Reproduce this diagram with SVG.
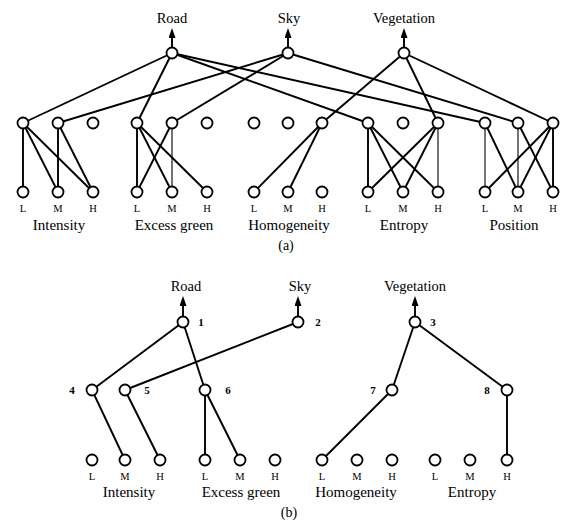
<svg xmlns="http://www.w3.org/2000/svg" width="565" height="525" viewBox="0 0 565 525">
  <style>
    .edge { stroke: #000; stroke-width: 1.9; fill: none; }
    .thin { stroke: #000; stroke-width: 1.1; fill: none; }
    .arrow { stroke: #000; stroke-width: 1.9; fill: none; }
    .node circle { fill: #fff; stroke: #000; stroke-width: 1.8; }
    text { font-family: "Liberation Serif", "Times New Roman", serif; fill: #000; }
    .out { font-size: 14.5px; text-anchor: middle; }
    .grp { font-size: 15px; text-anchor: middle; }
    .lvl { font-size: 10.5px; text-anchor: middle; }
    .num { font-size: 11px; font-weight: bold; text-anchor: middle; }
    .cap { font-size: 14px; text-anchor: middle; }
  </style>
  <defs>
    <marker id="head" markerUnits="userSpaceOnUse" markerWidth="10" markerHeight="7" viewBox="0 0 10 7" refX="1" refY="3.5" orient="auto">
      <path d="M0,0 L10,3.5 L0,7 z" fill="#000"/>
    </marker>
  </defs>

  <rect width="565" height="525" fill="#fff"/>

  <!-- ===== Network (a) ===== -->
  <g id="connectors-a">
    <!-- output arrows -->
    <line class="arrow" x1="172" y1="48" x2="172" y2="37" marker-end="url(#head)"/>
    <line class="arrow" x1="288" y1="48" x2="288" y2="37" marker-end="url(#head)"/>
    <line class="arrow" x1="404" y1="48" x2="404" y2="37" marker-end="url(#head)"/>
    <!-- Road -->
    <line class="edge" x1="172" y1="53" x2="23" y2="123"/>
    <line class="edge" x1="172" y1="53" x2="137" y2="123"/>
    <line class="edge" x1="172" y1="53" x2="368" y2="123"/>
    <line class="edge" x1="172" y1="53" x2="485" y2="123"/>
    <!-- Sky -->
    <line class="edge" x1="288" y1="53" x2="58" y2="123"/>
    <line class="edge" x1="288" y1="53" x2="172" y2="123"/>
    <line class="edge" x1="288" y1="53" x2="518" y2="123"/>
    <!-- Vegetation -->
    <line class="edge" x1="404" y1="53" x2="322" y2="123"/>
    <line class="edge" x1="404" y1="53" x2="438" y2="123"/>
    <line class="edge" x1="404" y1="53" x2="553" y2="123"/>
    <!-- Intensity -->
    <line class="edge" x1="23" y1="123" x2="23" y2="192"/>
    <line class="edge" x1="23" y1="123" x2="58" y2="192"/>
    <line class="edge" x1="23" y1="123" x2="93" y2="192"/>
    <line class="edge" x1="58" y1="123" x2="58" y2="192"/>
    <line class="edge" x1="58" y1="123" x2="93" y2="192"/>
    <!-- Excess green -->
    <line class="edge" x1="137" y1="123" x2="137" y2="192"/>
    <line class="edge" x1="137" y1="123" x2="172" y2="192"/>
    <line class="edge" x1="137" y1="123" x2="207" y2="192"/>
    <line class="edge" x1="172" y1="123" x2="137" y2="192"/>
    <line class="thin" x1="172" y1="123" x2="172" y2="192"/>
    <!-- Homogeneity -->
    <line class="edge" x1="322" y1="123" x2="254" y2="192"/>
    <line class="edge" x1="322" y1="123" x2="288" y2="192"/>
    <!-- Entropy -->
    <line class="edge" x1="368" y1="123" x2="368" y2="192"/>
    <line class="edge" x1="368" y1="123" x2="403" y2="192"/>
    <line class="edge" x1="368" y1="123" x2="438" y2="192"/>
    <line class="edge" x1="438" y1="123" x2="368" y2="192"/>
    <line class="edge" x1="438" y1="123" x2="403" y2="192"/>
    <line class="thin" x1="438" y1="123" x2="438" y2="192"/>
    <!-- Position -->
    <line class="thin" x1="485" y1="123" x2="485" y2="192"/>
    <line class="edge" x1="485" y1="123" x2="518" y2="192"/>
    <line class="thin" x1="518" y1="123" x2="518" y2="192"/>
    <line class="edge" x1="518" y1="123" x2="553" y2="192"/>
    <line class="edge" x1="553" y1="123" x2="485" y2="192"/>
    <line class="edge" x1="553" y1="123" x2="518" y2="192"/>
    <line class="edge" x1="553" y1="123" x2="553" y2="192"/>
  </g>

  <!-- outputs (a) -->
  <g id="a-road" class="node"><circle cx="172" cy="53" r="5.5"/><text class="out" x="172" y="23">Road</text></g>
  <g id="a-sky" class="node"><circle cx="288" cy="53" r="5.5"/><text class="out" x="289" y="23">Sky</text></g>
  <g id="a-vegetation" class="node"><circle cx="404" cy="53" r="5.5"/><text class="out" x="404" y="23">Vegetation</text></g>

  <!-- hidden layer (a) -->
  <g id="a-h1" class="node"><circle cx="23" cy="123" r="5.5"/></g>
  <g id="a-h2" class="node"><circle cx="58" cy="123" r="5.5"/></g>
  <g id="a-h3" class="node"><circle cx="93" cy="123" r="5.5"/></g>
  <g id="a-h4" class="node"><circle cx="137" cy="123" r="5.5"/></g>
  <g id="a-h5" class="node"><circle cx="172" cy="123" r="5.5"/></g>
  <g id="a-h6" class="node"><circle cx="207" cy="123" r="5.5"/></g>
  <g id="a-h7" class="node"><circle cx="254" cy="123" r="5.5"/></g>
  <g id="a-h8" class="node"><circle cx="288" cy="123" r="5.5"/></g>
  <g id="a-h9" class="node"><circle cx="322" cy="123" r="5.5"/></g>
  <g id="a-h10" class="node"><circle cx="368" cy="123" r="5.5"/></g>
  <g id="a-h11" class="node"><circle cx="403" cy="123" r="5.5"/></g>
  <g id="a-h12" class="node"><circle cx="438" cy="123" r="5.5"/></g>
  <g id="a-h13" class="node"><circle cx="485" cy="123" r="5.5"/></g>
  <g id="a-h14" class="node"><circle cx="518" cy="123" r="5.5"/></g>
  <g id="a-h15" class="node"><circle cx="553" cy="123" r="5.5"/></g>

  <!-- inputs (a) -->
  <g id="a-intensity-l" class="node"><circle cx="23" cy="192" r="5.5"/><text class="lvl" x="23" y="212">L</text></g>
  <g id="a-intensity-m" class="node"><circle cx="58" cy="192" r="5.5"/><text class="lvl" x="58" y="212">M</text></g>
  <g id="a-intensity-h" class="node"><circle cx="93" cy="192" r="5.5"/><text class="lvl" x="93" y="212">H</text></g>
  <g id="a-green-l" class="node"><circle cx="137" cy="192" r="5.5"/><text class="lvl" x="137" y="212">L</text></g>
  <g id="a-green-m" class="node"><circle cx="172" cy="192" r="5.5"/><text class="lvl" x="172" y="212">M</text></g>
  <g id="a-green-h" class="node"><circle cx="207" cy="192" r="5.5"/><text class="lvl" x="207" y="212">H</text></g>
  <g id="a-homog-l" class="node"><circle cx="254" cy="192" r="5.5"/><text class="lvl" x="254" y="212">L</text></g>
  <g id="a-homog-m" class="node"><circle cx="288" cy="192" r="5.5"/><text class="lvl" x="288" y="212">M</text></g>
  <g id="a-homog-h" class="node"><circle cx="322" cy="192" r="5.5"/><text class="lvl" x="322" y="212">H</text></g>
  <g id="a-entropy-l" class="node"><circle cx="368" cy="192" r="5.5"/><text class="lvl" x="368" y="212">L</text></g>
  <g id="a-entropy-m" class="node"><circle cx="403" cy="192" r="5.5"/><text class="lvl" x="403" y="212">M</text></g>
  <g id="a-entropy-h" class="node"><circle cx="438" cy="192" r="5.5"/><text class="lvl" x="438" y="212">H</text></g>
  <g id="a-position-l" class="node"><circle cx="485" cy="192" r="5.5"/><text class="lvl" x="485" y="212">L</text></g>
  <g id="a-position-m" class="node"><circle cx="518" cy="192" r="5.5"/><text class="lvl" x="518" y="212">M</text></g>
  <g id="a-position-h" class="node"><circle cx="553" cy="192" r="5.5"/><text class="lvl" x="553" y="212">H</text></g>

  <g id="a-groups">
    <text class="grp" x="59" y="230">Intensity</text>
    <text class="grp" x="174" y="230">Excess green</text>
    <text class="grp" x="289" y="230">Homogeneity</text>
    <text class="grp" x="404" y="230">Entropy</text>
    <text class="grp" x="514" y="230">Position</text>
    <text class="cap" x="286" y="250">(a)</text>
  </g>

  <!-- ===== Network (b) ===== -->
  <g id="connectors-b">
    <line class="arrow" x1="183" y1="316" x2="183" y2="305" marker-end="url(#head)"/>
    <line class="arrow" x1="298" y1="316" x2="298" y2="305" marker-end="url(#head)"/>
    <line class="arrow" x1="415" y1="316" x2="415" y2="305" marker-end="url(#head)"/>
    <line class="edge" x1="183" y1="322" x2="92" y2="390"/>
    <line class="edge" x1="183" y1="322" x2="205" y2="390"/>
    <line class="edge" x1="298" y1="322" x2="125" y2="390"/>
    <line class="edge" x1="415" y1="322" x2="392" y2="390"/>
    <line class="edge" x1="415" y1="322" x2="507" y2="390"/>
    <line class="edge" x1="92" y1="390" x2="125" y2="460"/>
    <line class="edge" x1="125" y1="390" x2="160" y2="460"/>
    <line class="edge" x1="205" y1="390" x2="205" y2="460"/>
    <line class="edge" x1="205" y1="390" x2="240" y2="460"/>
    <line class="edge" x1="392" y1="390" x2="322" y2="460"/>
    <line class="edge" x1="507" y1="390" x2="507" y2="460"/>
  </g>

  <!-- outputs (b) -->
  <g id="b-1" class="node"><circle cx="183" cy="322" r="5.5"/><text class="out" x="186" y="291">Road</text><text class="num" x="201" y="326">1</text></g>
  <g id="b-2" class="node"><circle cx="298" cy="322" r="5.5"/><text class="out" x="300" y="291">Sky</text><text class="num" x="318" y="326">2</text></g>
  <g id="b-3" class="node"><circle cx="415" cy="322" r="5.5"/><text class="out" x="415" y="291">Vegetation</text><text class="num" x="433" y="326">3</text></g>

  <!-- hidden layer (b) -->
  <g id="b-4" class="node"><circle cx="92" cy="390" r="5.5"/><text class="num" x="72" y="394">4</text></g>
  <g id="b-5" class="node"><circle cx="125" cy="390" r="5.5"/><text class="num" x="147" y="394">5</text></g>
  <g id="b-6" class="node"><circle cx="205" cy="390" r="5.5"/><text class="num" x="228" y="394">6</text></g>
  <g id="b-7" class="node"><circle cx="392" cy="390" r="5.5"/><text class="num" x="373" y="394">7</text></g>
  <g id="b-8" class="node"><circle cx="507" cy="390" r="5.5"/><text class="num" x="487" y="394">8</text></g>

  <!-- inputs (b) -->
  <g id="b-intensity-l" class="node"><circle cx="92" cy="460" r="5.5"/><text class="lvl" x="92" y="480">L</text></g>
  <g id="b-intensity-m" class="node"><circle cx="125" cy="460" r="5.5"/><text class="lvl" x="125" y="480">M</text></g>
  <g id="b-intensity-h" class="node"><circle cx="160" cy="460" r="5.5"/><text class="lvl" x="160" y="480">H</text></g>
  <g id="b-green-l" class="node"><circle cx="205" cy="460" r="5.5"/><text class="lvl" x="205" y="480">L</text></g>
  <g id="b-green-m" class="node"><circle cx="240" cy="460" r="5.5"/><text class="lvl" x="240" y="480">M</text></g>
  <g id="b-green-h" class="node"><circle cx="275" cy="460" r="5.5"/><text class="lvl" x="275" y="480">H</text></g>
  <g id="b-homog-l" class="node"><circle cx="322" cy="460" r="5.5"/><text class="lvl" x="322" y="480">L</text></g>
  <g id="b-homog-m" class="node"><circle cx="357" cy="460" r="5.5"/><text class="lvl" x="357" y="480">M</text></g>
  <g id="b-homog-h" class="node"><circle cx="392" cy="460" r="5.5"/><text class="lvl" x="392" y="480">H</text></g>
  <g id="b-entropy-l" class="node"><circle cx="435" cy="460" r="5.5"/><text class="lvl" x="435" y="480">L</text></g>
  <g id="b-entropy-m" class="node"><circle cx="470" cy="460" r="5.5"/><text class="lvl" x="470" y="480">M</text></g>
  <g id="b-entropy-h" class="node"><circle cx="507" cy="460" r="5.5"/><text class="lvl" x="507" y="480">H</text></g>

  <g id="b-groups">
    <text class="grp" x="129" y="497">Intensity</text>
    <text class="grp" x="241" y="497">Excess green</text>
    <text class="grp" x="356" y="497">Homogeneity</text>
    <text class="grp" x="472" y="497">Entropy</text>
    <text class="cap" x="289" y="517">(b)</text>
  </g>
</svg>
